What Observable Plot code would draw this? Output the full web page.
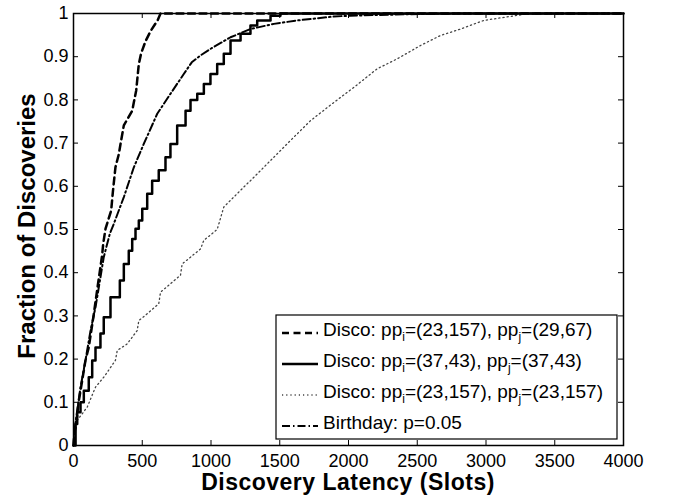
<!DOCTYPE html>
<html><head><meta charset="utf-8">
<script src="https://cdn.jsdelivr.net/npm/d3@7"></script>
<script src="https://cdn.jsdelivr.net/npm/@observablehq/plot@0.6"></script>
<style>
body{margin:0;background:#fff;}
svg{font-family:"Liberation Sans",Arial,Helvetica,sans-serif;}
</style>
</head><body><div id="chart"></div>
<script>
// ---- data ----
const xTicks = [0, 500, 1000, 1500, 2000, 2500, 3000, 3500, 4000];
const xTickLabels = ["0", "500", "1000", "1500", "2000", "2500", "3000", "3500", "4000"];
const yTicks = [0, 0.1, 0.2, 0.3, 0.4, 0.5, 0.6, 0.7, 0.8, 0.9, 1];
const yTickLabels = ["0", "0.1", "0.2", "0.3", "0.4", "0.5", "0.6", "0.7", "0.8", "0.9", "1"];
const xLabel = "Discovery Latency (Slots)";
const yLabel = "Fraction of Discoveries";
const seriesLabels = [
  "Disco: pp_i=(23,157), pp_j=(29,67)",
  "Disco: pp_i=(37,43), pp_j=(37,43)",
  "Disco: pp_i=(23,157), pp_j=(23,157)",
  "Birthday: p=0.05"
];

// Disco (23,157)/(29,67)
const dashedV = [0, 7, 22, 39, 63, 87, 111, 148, 172, 208, 216, 233, 274, 286, 305, 330, 342, 366, 427, 456, 475, 492, 524, 560, 613, 633, 4000];
const dashedF = [0, 0.028, 0.058, 0.104, 0.15, 0.197, 0.227, 0.305, 0.36, 0.44, 0.467, 0.502, 0.544, 0.586, 0.644, 0.675, 0.698, 0.741, 0.775, 0.822, 0.883, 0.908, 0.936, 0.959, 0.985, 1.0, 1.0];
// Disco (37,43)/(37,43)
const solidV = [0, 15, 27, 51, 75, 111, 136, 160, 196, 220, 269, 337, 366, 402, 427, 451, 475, 500, 536, 572, 620, 669, 705, 754, 815, 851, 900, 948, 996, 1045, 1093, 1142, 1215, 1287, 1336, 1433, 1505, 4000];
const solidF = [0, 0.05, 0.077, 0.1, 0.127, 0.158, 0.197, 0.227, 0.259, 0.297, 0.343, 0.382, 0.42, 0.451, 0.478, 0.502, 0.521, 0.548, 0.583, 0.613, 0.637, 0.667, 0.698, 0.741, 0.775, 0.8, 0.814, 0.837, 0.86, 0.883, 0.907, 0.9375, 0.953, 0.972, 0.984, 0.995, 1.0, 1.0];
// Disco (23,157)/(23,157)
const dottedV = [0, 27, 100, 160, 220, 305, 318, 390, 463, 475, 536, 620, 633, 718, 778, 790, 851, 924, 948, 1045, 1093, 1263, 1287, 1409, 1578, 1724, 1881, 2039, 2208, 2354, 2524, 2669, 2815, 2984, 3130, 3275, 3470, 4000];
const dottedF = [0, 0.058, 0.089, 0.135, 0.158, 0.197, 0.22, 0.235, 0.266, 0.289, 0.305, 0.328, 0.355, 0.378, 0.394, 0.42, 0.436, 0.455, 0.475, 0.5, 0.552, 0.606, 0.613, 0.652, 0.706, 0.752, 0.791, 0.829, 0.872, 0.895, 0.926, 0.949, 0.964, 0.984, 0.991, 0.998, 1.0, 1.0];
// Birthday p=0.05
const birthdayV = [0, 7, 27, 51, 87, 124, 160, 184, 220, 264, 293, 366, 439, 511, 609, 705, 802, 860, 924, 996, 1142, 1287, 1457, 1627, 1893, 2015, 2400, 2800, 4000];
const birthdayF = [0, 0.035, 0.081, 0.135, 0.197, 0.266, 0.32, 0.366, 0.436, 0.49, 0.513, 0.575, 0.644, 0.698, 0.768, 0.814, 0.86, 0.887, 0.903, 0.918, 0.945, 0.964, 0.976, 0.984, 0.993, 0.995, 0.998, 1.0, 1.0];

// ---- styles ----
const styles = [
  {stroke: "#000", strokeWidth: 2.5, dash: "7,4.5", curve: "linear"},
  {stroke: "#000", strokeWidth: 2.5, dash: null, curve: "step-after"},
  {stroke: "#444", strokeWidth: 1.3, dash: "1.2,3", curve: "linear"},
  {stroke: "#000", strokeWidth: 2, dash: "8,3,1.5,3", curve: "linear"}
];
const toRows = (V, F) => V.map((v, i) => ({v, f: F[i]}));
const seriesData = [toRows(dashedV, dashedF), toRows(solidV, solidF), toRows(dottedV, dottedF), toRows(birthdayV, birthdayF)];

const W = 673, H = 498, mL = 73, mR = 50, mT = 13, mB = 53;
const pw = W - mL - mR, ph = H - mT - mB;
const tk = 5;

const lineMarks = [2, 3, 1, 0].map(k => Plot.line(seriesData[k], {
  x: "v", y: "f", curve: styles[k].curve, stroke: styles[k].stroke,
  strokeWidth: styles[k].strokeWidth, strokeDasharray: styles[k].dash
}));

const chart = Plot.plot({
  width: W, height: H,
  marginLeft: mL, marginRight: mR, marginTop: mT, marginBottom: mB,
  style: {fontFamily: '"Liberation Sans", Arial, Helvetica, sans-serif', fontSize: "18px", color: "#000", background: "#fff"},
  x: {domain: [0, 4000]},
  y: {domain: [0, 1]},
  marks: [
    ...lineMarks,
    Plot.ruleX(xTicks, {x: d => d, insetTop: ph - tk, stroke: "#000"}),
    Plot.ruleX(xTicks, {x: d => d, insetBottom: ph - tk, stroke: "#000"}),
    Plot.ruleY(yTicks, {y: d => d, insetRight: pw - tk, stroke: "#000"}),
    Plot.ruleY(yTicks, {y: d => d, insetLeft: pw - tk, stroke: "#000"}),
    Plot.frame({stroke: "#000", strokeWidth: 1.5}),
    Plot.axisX({ticks: xTicks, tickFormat: d => xTickLabels[xTicks.indexOf(d)], tickSize: 0, tickPadding: 9, fontSize: 18, label: null}),
    Plot.axisY({ticks: yTicks, tickFormat: d => yTickLabels[yTicks.indexOf(d)], tickSize: 0, tickPadding: 5, fontSize: 18, label: null})
  ]
});
document.getElementById("chart").appendChild(chart);

const svg = d3.select(chart);
// axis labels
svg.append("text")
  .attr("x", mL + pw / 2).attr("y", 490)
  .attr("text-anchor", "middle")
  .attr("font-size", 23).attr("font-weight", "bold").attr("letter-spacing", "0.5px").attr("fill", "#000")
  .text(xLabel);
svg.append("text")
  .attr("transform", "translate(35,226) rotate(-90)")
  .attr("text-anchor", "middle")
  .attr("font-size", 24).attr("font-weight", "bold").attr("fill", "#000")
  .text(yLabel);

// ---- legend ----
const lg = svg.append("g").attr("class", "legend").attr("text-anchor", "start");
const bx = 276, by = 315, bw = 341, bh = 124;
lg.append("rect").attr("x", bx).attr("y", by).attr("width", bw).attr("height", bh)
  .attr("fill", "#fff").attr("stroke", "#000").attr("stroke-width", 1.2);
const rowY = [333, 364, 395, 426];
seriesLabels.forEach((lab, k) => {
  const y = rowY[k];
  const st = styles[k];
  lg.append("line").attr("x1", 282).attr("x2", 318).attr("y1", y).attr("y2", y)
    .attr("stroke", st.stroke).attr("stroke-width", st.strokeWidth)
    .attr("stroke-dasharray", st.dash);
  const t = lg.append("text").attr("x", 323).attr("y", y + 3).attr("font-size", 19)
    .attr("fill", "#000").attr("text-anchor", "start");
  const parts = lab.split(/_([ij])/);
  parts.forEach((p, i) => {
    if (i % 2 === 1) {
      t.append("tspan").attr("font-size", 12).attr("dy", 5).text(p);
    } else if (p.length) {
      const ts = t.append("tspan").text(p);
      if (i > 0) ts.attr("dy", -5);
    }
  });
});
</script>
</body></html>
